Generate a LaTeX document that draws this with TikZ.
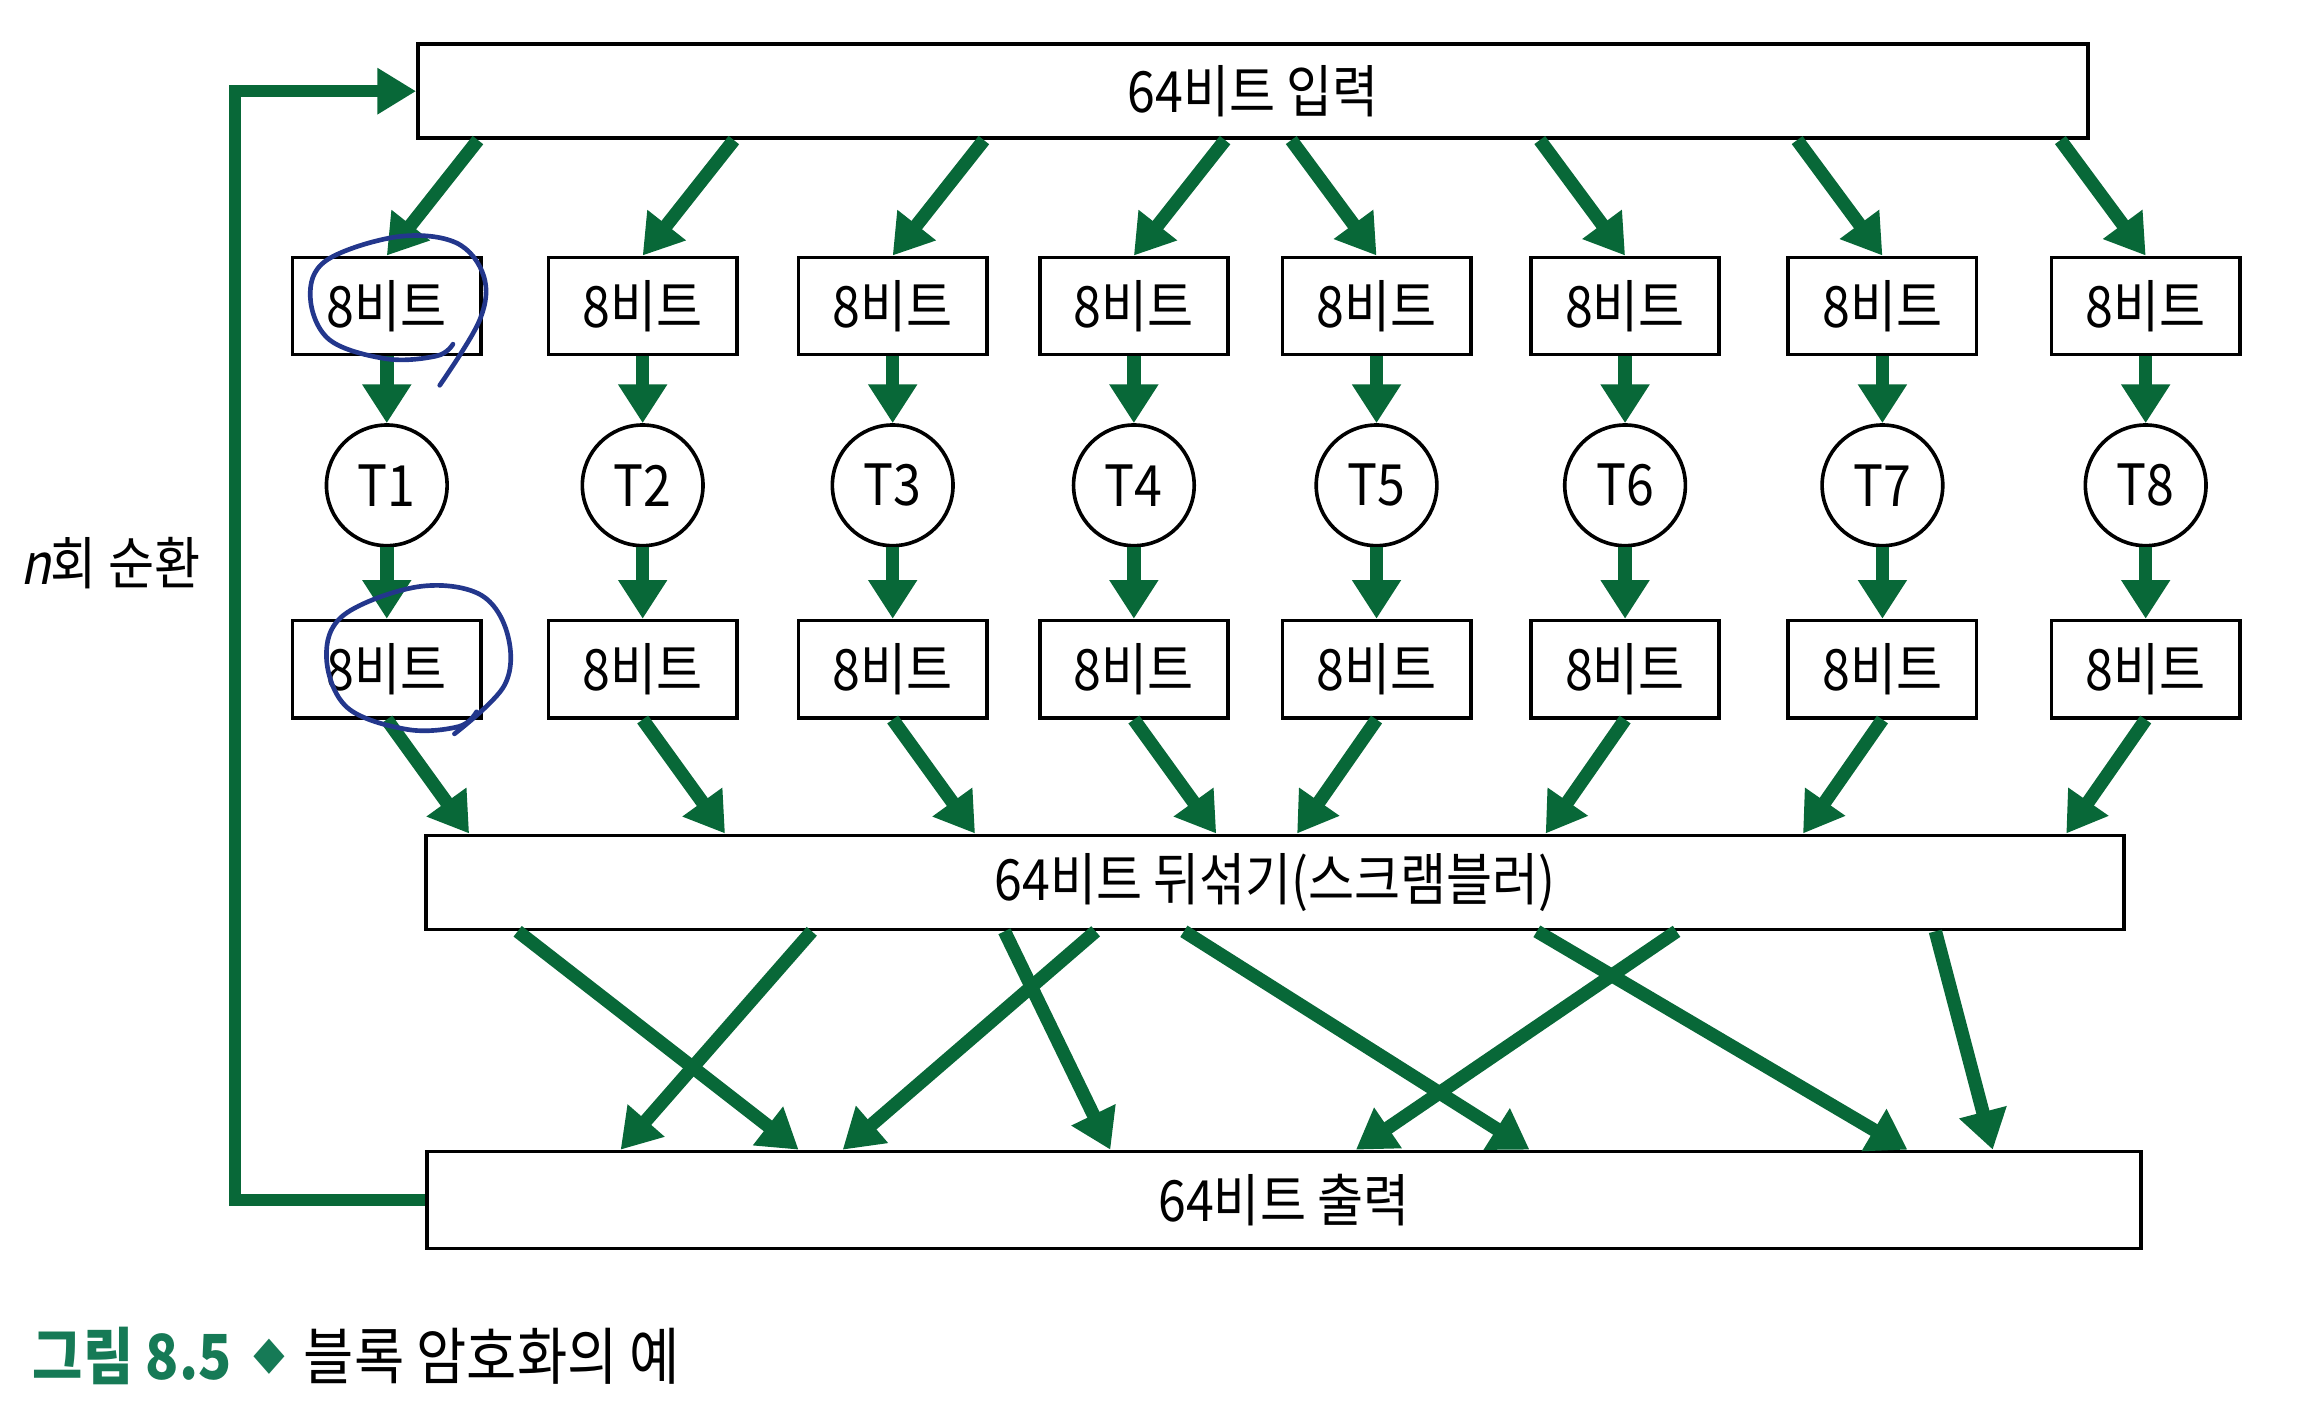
\documentclass[tikz,border=0pt]{standalone}
\usepackage{fontspec}
\setmainfont{Noto Sans CJK KR}[FakeStretch=0.88,AutoFakeSlant=0.2]
\usetikzlibrary{arrows.meta,calc}

\definecolor{arrowgreen}{RGB}{8,104,56}
\definecolor{capgreen}{RGB}{22,122,86}
\definecolor{penblue}{RGB}{35,55,140}

\begin{document}
\begin{tikzpicture}[x=0.01cm, y=-0.01cm, font=\fontsize{11}{13}\selectfont,
    wide/.style={draw, line width=0.7pt, minimum height=0.64cm, inner sep=0pt},
    bitbox/.style={draw, line width=0.7pt, minimum width=1.28cm, minimum height=0.66cm, inner sep=0pt},
    tbox/.style={circle, draw, line width=0.7pt, minimum size=0.82cm, inner sep=0pt},
    flow/.style={draw=arrowgreen, line width=2.6pt, -{Triangle[length=7.5pt,width=9pt]}},
    feedback/.style={draw=arrowgreen, line width=2.3pt, -{Triangle[length=7.5pt,width=8.5pt]}},
    ink/.style={draw=penblue, line width=0.9pt, line cap=round}]
    \useasboundingbox (0,0) rectangle (1568,969);

    % Nodes
    \node[wide, minimum width=11.35cm] (in) at (852,62) {64비트 입력};
    \foreach \x [count=\i] in {263,437,607,771,936,1105,1280,1459} {
        \node[bitbox] (a\i) at (\x,208) {8비트};
        \node[tbox] (t\i) at (\x,330) {T\i};
        \node[bitbox] (c\i) at (\x,455) {8비트};
    }
    \node[wide, minimum width=11.54cm] (mix) at (867,600) {64비트 뒤섞기(스크램블러)};
    \node[wide, minimum width=11.65cm, minimum height=0.66cm] (out) at (873,816) {64비트 출력};
    \node (rounds) at (75,383) {{\itshape n}회 순환};
    \node[anchor=west, font=\fontsize{12}{15}\selectfont] (cap) at (10,922)
        {\textcolor{capgreen}{\bfseries 그림 8.5\hspace{0.35em}\raisebox{1.8pt}{\fontsize{7}{8}\selectfont ◆}}\hspace{0.3em}블록 암호화의 예};

    % Edges
    \foreach \i in {1,...,4} {
        \draw[flow] ($(a\i.north |- in.south)+(62,0)$) -- (a\i.north);
        \draw[flow] (c\i.south) -- ($(c\i.south |- mix.north)+(56,0)$);
    }
    \foreach \i in {5,...,8} {
        \draw[flow] ($(a\i.north |- in.south)+(-58,0)$) -- (a\i.north);
        \draw[flow] (c\i.south) -- ($(c\i.south |- mix.north)+(-54,0)$);
    }
    \foreach \i in {1,...,8} {
        \draw[flow] (a\i) -- (t\i);
        \draw[flow] (t\i) -- (c\i);
    }
    \foreach \s/\e in {352/543,552/422,683/755,745/573,805/1040,1045/1297,1140/922,1316/1355}
        \draw[flow] (\s,0 |- mix.south) -- (\e,0 |- out.north);
    \draw[feedback] (out.west) -- (160,0 |- out.west) -- (160,0 |- in.west) -- (in.west);

    % pen marks
    \draw[ink] plot[smooth, tension=0.6] coordinates {(308,234) (297,242) (263,244) (224,231)
        (211,202) (222,177) (270,161) (310,165) (329,188) (326,218) (299,262)};
    \draw[ink] plot[smooth, tension=0.6] coordinates {(324,484) (312,494) (277,496) (236,481)
        (222,447) (234,418) (284,399) (326,404) (345,431) (343,466) (309,499)};
\end{tikzpicture}
\end{document}
